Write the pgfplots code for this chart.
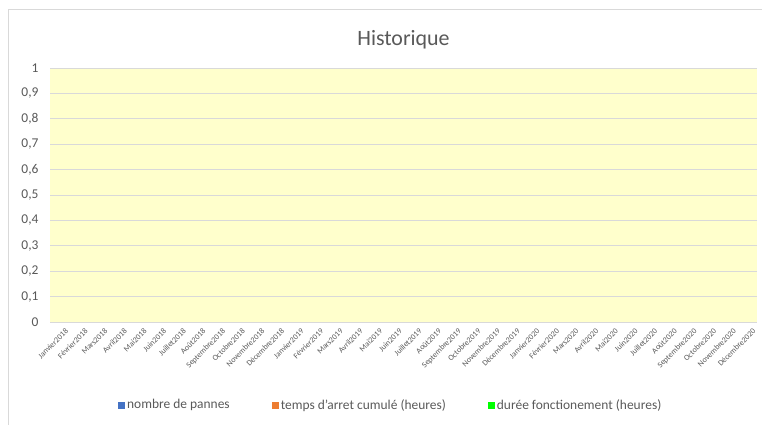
\documentclass[border=0pt]{standalone}
\usepackage{fontspec}
\setmainfont{Carlito}
\usepackage{pgfplots}
\pgfplotsset{compat=1.18}
\definecolor{plotYellow}{HTML}{FFFFCC}
\definecolor{gridGray}{HTML}{D9D9D9}
\definecolor{txtGray}{HTML}{595959}
\definecolor{frameGray}{HTML}{D9D9D9}
\definecolor{serBlue}{HTML}{4472C4}
\definecolor{serOrange}{HTML}{ED7D31}
\definecolor{serGreen}{HTML}{00FF00}

\begin{document}
\begin{tikzpicture}
\useasboundingbox (0,0) rectangle (762bp,425bp);
\draw[frameGray, line width=0.8bp] (8bp,0) -- (8bp,416bp) -- (762bp,416bp);
\begin{axis}[
  at={(50bp,103bp)}, anchor=south west,
  scale only axis,
  width=707bp, height=254bp,
  ybar, bar width=4bp,
  xmin=-0.5, xmax=35.5,
  ymin=0, ymax=1,
  axis background/.style={fill=plotYellow},
  axis line style={draw=none},
  axis x line*=bottom,
  x axis line style={draw=gridGray, line width=0.8bp},
  ytick={0,0.1,0.2,0.3,0.4,0.5,0.6,0.7,0.8,0.9,1},
  yticklabels={0,{0,1},{0,2},{0,3},{0,4},{0,5},{0,6},{0,7},{0,8},{0,9},1},
  ymajorgrids,
  grid style={draw=gridGray, line width=0.8bp},
  major tick length=0pt,
  yticklabel style={font=\fontsize{13.5}{15}\selectfont, text=txtGray, xshift=-8bp},
  xtick={0,...,35},
  xticklabels={Janvier2018,Février2018,Mars2018,Avril2018,Mai2018,Juin2018,Juillet2018,Août2018,Septembre2018,Octobre2018,Novembre2018,Décembre2018,
    Janvier2019,Février2019,Mars2019,Avril2019,Mai2019,Juin2019,Juillet2019,Août2019,Septembre2019,Octobre2019,Novembre2019,Décembre2019,
    Janvier2020,Février2020,Mars2020,Avril2020,Mai2020,Juin2020,Juillet2020,Août2020,Septembre2020,Octobre2020,Novembre2020,Décembre2020},
  xticklabel style={font=\fontsize{8}{9}\selectfont, text=txtGray, rotate=45, anchor=north east, inner sep=0.5bp, yshift=-7bp},
  title={Historique},
  title style={font=\fontsize{22}{26}\selectfont, text=txtGray, at={(0.5,1)}, anchor=south, yshift=9bp},
  legend columns=3,
  legend style={at={(0.482,-0.327)}, anchor=center, draw=none, fill=none,
    font=\fontsize{13.5}{15}\selectfont, text=txtGray,
    /tikz/every even column/.append style={column sep=40bp}},
  legend image code/.code={\fill[#1] (0bp,-3.5bp) rectangle (7bp,3.5bp);},
]
\addplot[draw=none, fill=serBlue] coordinates {
  (0,0) (1,0) (2,0) (3,0) (4,0) (5,0) (6,0) (7,0) (8,0) (9,0) (10,0) (11,0)
  (12,0) (13,0) (14,0) (15,0) (16,0) (17,0) (18,0) (19,0) (20,0) (21,0) (22,0) (23,0)
  (24,0) (25,0) (26,0) (27,0) (28,0) (29,0) (30,0) (31,0) (32,0) (33,0) (34,0) (35,0)};
\addlegendentry{nombre de pannes}
\addplot[draw=none, fill=serOrange] coordinates {
  (0,0) (1,0) (2,0) (3,0) (4,0) (5,0) (6,0) (7,0) (8,0) (9,0) (10,0) (11,0)
  (12,0) (13,0) (14,0) (15,0) (16,0) (17,0) (18,0) (19,0) (20,0) (21,0) (22,0) (23,0)
  (24,0) (25,0) (26,0) (27,0) (28,0) (29,0) (30,0) (31,0) (32,0) (33,0) (34,0) (35,0)};
\addlegendentry{temps d'arret cumulé (heures)}
\addplot[draw=none, fill=serGreen] coordinates {
  (0,0) (1,0) (2,0) (3,0) (4,0) (5,0) (6,0) (7,0) (8,0) (9,0) (10,0) (11,0)
  (12,0) (13,0) (14,0) (15,0) (16,0) (17,0) (18,0) (19,0) (20,0) (21,0) (22,0) (23,0)
  (24,0) (25,0) (26,0) (27,0) (28,0) (29,0) (30,0) (31,0) (32,0) (33,0) (34,0) (35,0)};
\addlegendentry{durée fonctionement (heures)}
\end{axis}
\end{tikzpicture}
\end{document}
